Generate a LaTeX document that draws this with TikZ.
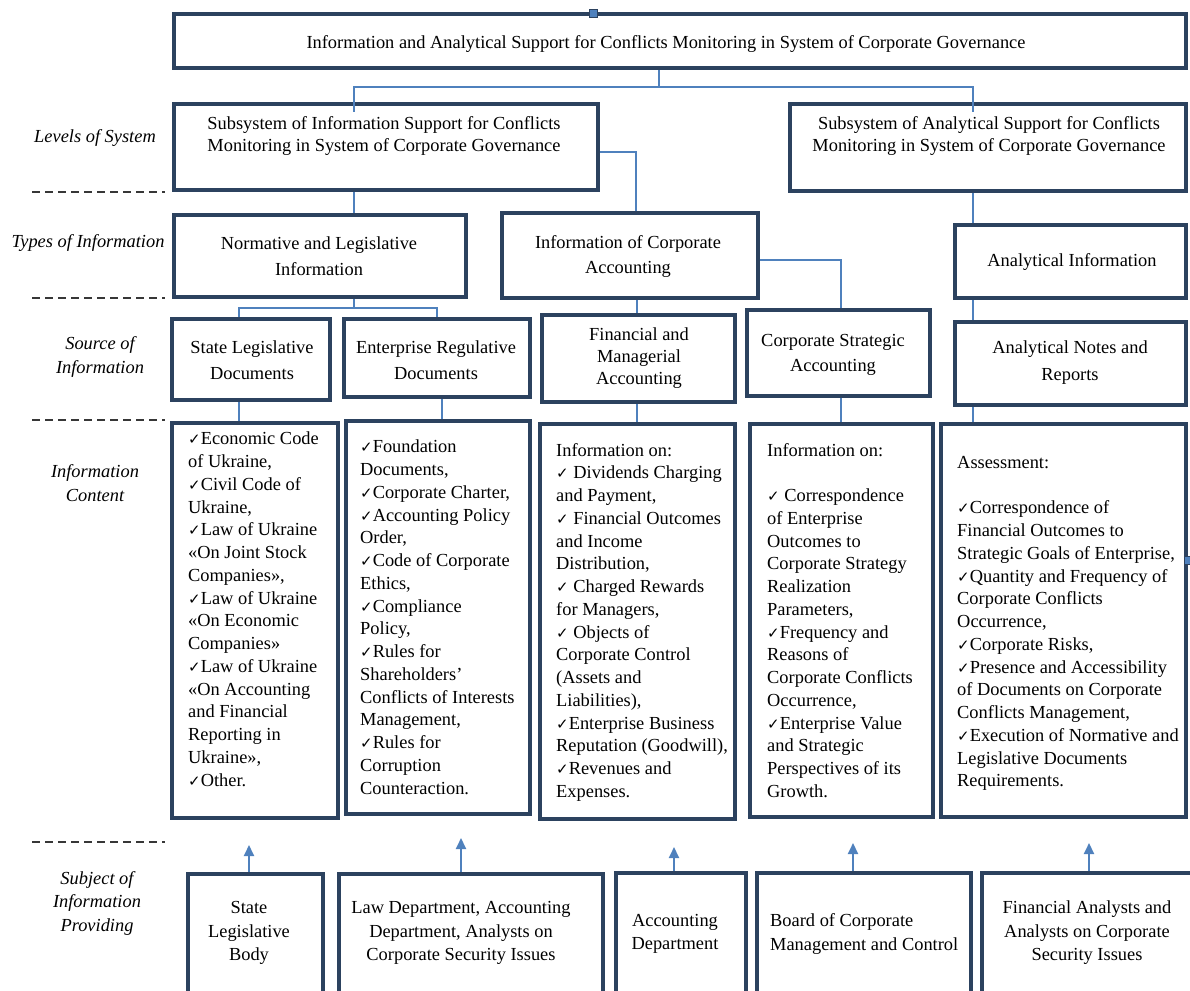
\documentclass[tikz,border=0pt]{standalone}
\usepackage{fontspec}
\setmainfont{Liberation Serif}
\newfontfamily\djv{DejaVu Sans}
\usetikzlibrary{arrows.meta}
\definecolor{boxc}{RGB}{44,66,95}
\definecolor{linec}{RGB}{79,129,189}
\definecolor{dashc}{RGB}{55,55,55}
\newcommand\ck{{\djv\fontsize{15}{15}\selectfont ✓}}
\newcommand\mkbox[5]{\node[box, minimum width={(#4)-(#2)}, minimum height={(#5)-(#3)}] (#1) at ({((#2)+(#4))/2},{((#3)+(#5))/2}) {};}
\tikzset{
  box/.style={draw=boxc, line width=3.8pt, fill=white, inner sep=0pt, rectangle},
  conn/.style={draw=linec, line width=1.3pt},
  arr/.style={draw=linec, line width=2pt, -{Triangle[length=11pt,width=10pt]}},
  lbl/.style={font=\fontsize{18.4}{23.5}\selectfont\itshape, align=center, inner sep=0pt},
  txt/.style={font=\fontsize{18.4}{24}\selectfont, align=center, inner sep=0pt},
  list/.style={font=\fontsize{18.4}{22.75}\selectfont, align=left, anchor=north west, inner sep=0pt},
  dline/.style={draw=dashc, line width=1.5pt, dash pattern=on 8pt off 5pt},
  handle/.style={draw=boxc, fill=linec, line width=0.8pt, minimum size=8pt, inner sep=0pt, rectangle}
}
\begin{document}
\begin{tikzpicture}[x=1pt,y=-1pt]
\useasboundingbox (0,0) rectangle (1190,990);
% boxes
\mkbox{title}{174}{14}{1186}{68}
\mkbox{subL}{174}{104}{598}{190}
\mkbox{subR}{790}{104}{1186}{191}
\mkbox{norm}{174}{215}{466}{297}
\mkbox{infoCA}{502}{213}{758}{298}
\mkbox{anInfo}{955}{225}{1186}{298}
\mkbox{stLeg}{172}{319}{330}{400}
\mkbox{entReg}{344}{319}{530}{397}
\mkbox{finMan}{542}{315}{735}{402}
\mkbox{csa}{747}{310}{930}{396}
\mkbox{notes}{955}{322}{1186}{405}
\mkbox{cA}{172}{423}{338}{818}
\mkbox{cB}{346}{421}{530}{814}
\mkbox{cC}{540}{424}{735}{819}
\mkbox{cD}{750}{424}{933}{817}
\mkbox{cE}{941}{424}{1186}{817}
\mkbox{sbA}{188}{874}{323}{1010}
\mkbox{sbB}{339}{874}{603}{1010}
\mkbox{sbC}{616}{873}{746}{1010}
\mkbox{sbD}{757}{873}{971}{1010}
\mkbox{sbE}{982}{873}{1200}{1010}
% handles
\node[handle] (hA) at (593,13) {};
\node[handle] (hB) at (1188,560) {};
% dashed separators
\coordinate (dA1) at (32,192); \coordinate (dA2) at (165,192);
\coordinate (dB1) at (32,298); \coordinate (dB2) at (165,298);
\coordinate (dC1) at (32,420); \coordinate (dC2) at (165,420);
\coordinate (dD1) at (32,842); \coordinate (dD2) at (165,842);
\draw[dline] (dA1) -- (dA2);
\draw[dline] (dB1) -- (dB2);
\draw[dline] (dC1) -- (dC2);
\draw[dline] (dD1) -- (dD2);
% left labels
\node[lbl] (lA) at (95,138) {Levels of System};
\node[lbl] (lB) at (88,243) {Types of Information};
\node[lbl] (lC) at (100,357) {Source of\\Information};
\node[lbl] (lD) at (95,483) {Information\\Content};
\node[lbl] (lE) at (97,903) {Subject of\\Information\\Providing};
% box texts
\node[txt] (tTitle) at (666,44) {Information and Analytical Support for Conflicts Monitoring in System of Corporate Governance};
\node[txt, font=\fontsize{18.4}{22}\selectfont] (tSubL) at (384,136) {Subsystem of Information Support for Conflicts\\Monitoring in System of Corporate Governance};
\node[txt, font=\fontsize{18.4}{22}\selectfont] (tSubR) at (989,136) {Subsystem of Analytical Support for Conflicts\\Monitoring in System of Corporate Governance};
\node[txt, font=\fontsize{18.4}{26}\selectfont] (tNorm) at (319,256) {Normative and Legislative\\Information};
\node[txt, font=\fontsize{18.4}{25}\selectfont] (tInfoCA) at (628,257) {Information of Corporate\\Accounting};
\node[txt] (tAnInfo) at (1072,262) {Analytical Information};
\node[txt, font=\fontsize{18.4}{26}\selectfont] (tStLeg) at (252,360) {State Legislative\\Documents};
\node[txt, font=\fontsize{18.4}{26}\selectfont] (tEntReg) at (436,360) {Enterprise Regulative\\Documents};
\node[txt, font=\fontsize{18.4}{22}\selectfont] (tFinMan) at (639,358) {Financial and\\Managerial\\Accounting};
\node[txt, font=\fontsize{18.4}{25}\selectfont] (tCsa) at (833,355) {Corporate Strategic\\Accounting};
\node[txt, font=\fontsize{18.4}{27}\selectfont] (tNotes) at (1070,363) {Analytical Notes and\\Reports};
% content lists
\node[list] (lstA) at (188,432) {\ck Economic Code\\of Ukraine,\\\ck Civil Code of\\Ukraine,\\\ck Law of Ukraine\\«On Joint Stock\\Companies»,\\\ck Law of Ukraine\\«On Economic\\Companies»\\\ck Law of Ukraine\\«On Accounting\\and Financial\\Reporting in\\Ukraine»,\\\ck Other.};
\node[list] (lstB) at (360,440) {\ck Foundation\\Documents,\\\ck Corporate Charter,\\\ck Accounting Policy\\Order,\\\ck Code of Corporate\\Ethics,\\\ck Compliance\\Policy,\\\ck Rules for\\Shareholders’\\Conflicts of Interests\\Management,\\\ck Rules for\\Corruption\\Counteraction.};
\node[list] (lstC) at (556,443) {Information on:\\\ck\ Dividends Charging\\and Payment,\\\ck\ Financial Outcomes\\and Income\\Distribution,\\\ck\ Charged Rewards\\for Managers,\\\ck\ Objects of\\Corporate Control\\(Assets and\\Liabilities),\\\ck Enterprise Business\\Reputation (Goodwill),\\\ck Revenues and\\Expenses.};
\node[list] (lstD) at (767,443) {Information on:\\[22.75pt]\ck\ Correspondence\\of Enterprise\\Outcomes to\\Corporate Strategy\\Realization\\Parameters,\\\ck Frequency and\\Reasons of\\Corporate Conflicts\\Occurrence,\\\ck Enterprise Value\\and Strategic\\Perspectives of its\\Growth.};
\node[list] (lstE) at (957,456) {Assessment:\\[22.75pt]\ck Correspondence of\\Financial Outcomes to\\Strategic Goals of Enterprise,\\\ck Quantity and Frequency of\\Corporate Conflicts\\Occurrence,\\\ck Corporate Risks,\\\ck Presence and Accessibility\\of Documents on Corporate\\Conflicts Management,\\\ck Execution of Normative and\\Legislative Documents\\Requirements.};
% bottom texts
\node[txt, font=\fontsize{18.4}{23.5}\selectfont] (tsbA) at (249,933) {State\\Legislative\\Body};
\node[txt, font=\fontsize{18.4}{23.5}\selectfont] (tsbB) at (461,933) {Law Department, Accounting\\Department, Analysts on\\Corporate Security Issues};
\node[txt, font=\fontsize{18.4}{23.5}\selectfont] (tsbC) at (675,934) {Accounting\\Department};
\node[txt, font=\fontsize{18.4}{23.5}\selectfont, align=left, anchor=west] (tsbD) at (770,934) {Board of Corporate\\Management and Control};
\node[txt, font=\fontsize{18.4}{23.5}\selectfont] (tsbE) at (1087,933) {Financial Analysts and\\Analysts on Corporate\\Security Issues};
% connectors
\coordinate (tj) at (659,87);
\coordinate (xl) at (354,0);
\coordinate (xr) at (973,0);
\draw[conn] (title.south -| tj) -- (tj);
\draw[conn, shorten >=-10pt] (tj) -| (subL.north -| xl);
\draw[conn, shorten >=-10pt] (tj) -| (subR.north -| xr);
\draw[conn] (subL.south -| xl) -- (norm.north -| xl);
\draw[conn] (subR.south -| xr) -- (anInfo.north -| xr);
\coordinate (k1) at (636,152);
\draw[conn] (subL.east |- k1) -| (infoCA.north -| k1);
\coordinate (nj) at (354,308);
\coordinate (xa) at (239,0);
\coordinate (xb) at (437,0);
\draw[conn] (norm.south -| nj) -- (nj);
\draw[conn] (stLeg.north -| xa) |- (nj) -| (entReg.north -| xb);
\coordinate (xc) at (637,0);
\draw[conn] (infoCA.south -| xc) -- (finMan.north -| xc);
\coordinate (k2) at (841,260);
\draw[conn] (infoCA.east |- k2) -| (csa.north -| k2);
\draw[conn] (anInfo.south -| xr) -- (notes.north -| xr);
\coordinate (xd) at (442,0);
\draw[conn] (stLeg.south -| xa) -- (cA.north -| xa);
\draw[conn] (entReg.south -| xd) -- (cB.north -| xd);
\draw[conn] (finMan.south -| xc) -- (cC.north -| xc);
\draw[conn] (csa.south -| k2) -- (cD.north -| k2);
\draw[conn] (notes.south -| xr) -- (cE.north -| xr);
% arrows
\coordinate (aA) at (249,845);
\coordinate (aB) at (461,838);
\coordinate (aC) at (674,847);
\coordinate (aD) at (853,843);
\coordinate (aE) at (1089,843);
\draw[arr] (sbA.north -| aA) -- (aA);
\draw[arr] (sbB.north -| aB) -- (aB);
\draw[arr] (sbC.north -| aC) -- (aC);
\draw[arr] (sbD.north -| aD) -- (aD);
\draw[arr] (sbE.north -| aE) -- (aE);
\end{tikzpicture}
\end{document}
